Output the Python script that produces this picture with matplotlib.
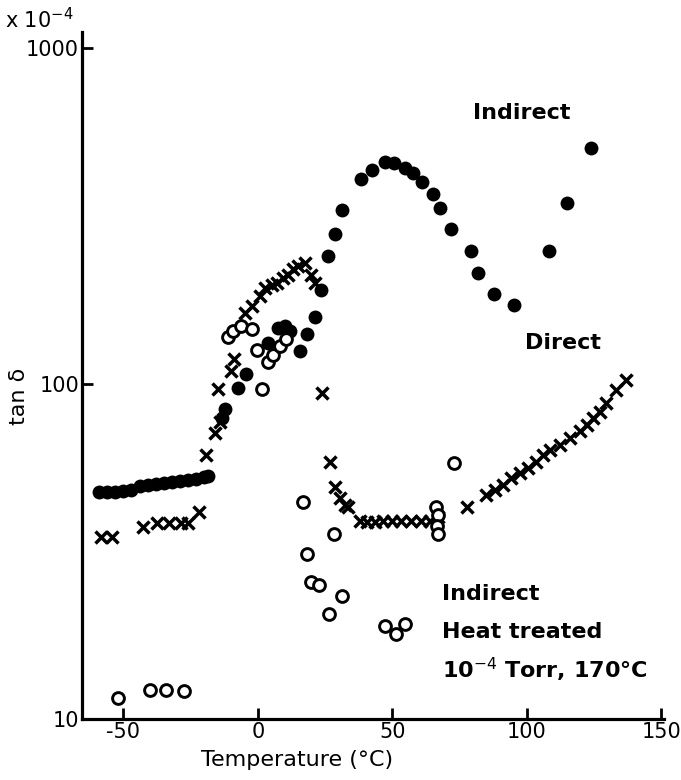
"""tan delta vs temperature: indirect, direct and heat-treated indirect."""

import matplotlib.pyplot as plt
from matplotlib.ticker import FixedLocator, NullLocator

# Indirect (filled circles)
indirect_t = [-59, -56, -53, -50, -47, -44, -41, -38, -35, -32, -29, -26, -23, -20, -18.5,
              -13.5, -12.3, -7.3, -4.5, 3.8, 7.5, 10, 11.9, 15.6, 18.1, 21.2, 23.5,
              25.9, 28.6, 31.2, 38.2, 42.3, 47.2, 50.6, 54.6, 57.5, 61.2, 65.2, 67.8,
              71.7, 79.2, 81.7, 87.9, 95.2, 108.3, 115.0, 124.0]
indirect_tan = [47.5, 47.5, 47.5, 47.8, 48, 49.5, 50, 50.3, 50.6, 51, 51.3, 51.6, 52, 52.5, 53,
                79, 84, 97, 107, 132, 146, 148, 143, 125, 140, 158, 190,
                239, 278, 329, 408, 432, 457, 454, 439, 423, 399, 368, 334,
                288, 248, 214, 185, 171, 249, 344, 502]

# Direct (crosses)
direct_t = [-58.5, -54.2, -42.9, -37.4, -33, -28.4, -25.9, -21.9, -19.3, -16, -14.1, -14.7,
            -10.1, -8.9, -4.8, -2.3, 0.7, 2.6, 5.1, 7, 9.4, 11.3, 13.1, 15, 17.5, 19.9,
            21.2, 23.7, 27, 28.6, 30.5, 32.3, 33.5, 37.9, 40.4, 43.5, 46.6, 49.7, 53.4,
            57.1, 60.8, 63.9, 67, 77.6, 85, 88.1, 91.2, 94.3, 97.4, 100.5, 103.6, 106.1,
            108.6, 112.3, 116, 119.7, 122.2, 124.7, 127.1, 129.6, 133.3, 136.8]
direct_tan = [35, 35, 37.4, 38.3, 38.4, 38.3, 38.3, 41.5, 61.3, 71, 77, 96,
              109, 118, 162, 170, 182, 192, 197, 199, 206, 211, 219, 224, 229, 211,
              199, 94, 58.5, 49, 45.5, 43.5, 43, 39, 38.8, 38.8, 39, 39, 39,
              39, 39, 39, 40, 43, 46.5, 48.2, 49.9, 52.2, 54, 55.9, 58.5, 61.3,
              63.4, 65.6, 68.7, 72, 75.4, 78.8, 82.4, 87.3, 95.7, 102.6]

# Indirect, heat treated 10^-4 Torr 170 C (open circles)
heat_t = [-52, -40, -34, -27.5, -11, -9.2, -6.1, -2.3, -0.5, 1.7, 3.8, 5.7, 8.2,
          10.4, 16.6, 18.1, 19.7, 22.8, 26.5, 28.3, 31.3, 47.2, 51.3, 54.6, 66.4, 67,
          66.6, 67, 72.9]
heat_tan = [11.6, 12.2, 12.2, 12.1, 138, 143, 148, 145, 126, 96, 116, 122, 129,
            136, 44.5, 31.1, 25.6, 25.1, 20.6, 35.7, 23.3, 19, 17.9, 19.2, 43, 40.5,
            37.7, 35.7, 57.8]

x_ticks = [-50, 0, 50, 100, 150]
y_ticks = [10, 100, 1000]

fig = plt.figure(figsize=(6.81, 7.8), dpi=100)
ax = fig.add_axes([0.12, 0.078, 0.855, 0.881])

ax.plot(indirect_t, indirect_tan, "o", color="black", markersize=10, markeredgewidth=0)
ax.plot(direct_t, direct_tan, "x", color="black", markersize=9, markeredgewidth=2.5)
ax.plot(heat_t, heat_tan, "o", markerfacecolor="white", markeredgecolor="black",
        markersize=8.5, markeredgewidth=2.1)

ax.set_yscale("log")
ax.set_xlim(-65.5, 151)
ax.set_ylim(10, 1115)
ax.xaxis.set_major_locator(FixedLocator(x_ticks))
ax.yaxis.set_major_locator(FixedLocator(y_ticks))
ax.yaxis.set_minor_locator(NullLocator())
ax.set_xticklabels([str(v) for v in x_ticks])
ax.set_yticklabels([str(v) for v in y_ticks])

for side in ("top", "right"):
    ax.spines[side].set_visible(False)
for side in ("left", "bottom"):
    ax.spines[side].set_linewidth(2.3)
ax.tick_params(direction="in", length=8, width=2, labelsize=15, pad=2)

ax.set_xlabel("Temperature (°C)", fontsize=16)
ax.xaxis.set_label_coords(0.37, -0.045)
ax.set_ylabel("tan δ", fontsize=16)
ax.yaxis.set_label_coords(-0.09, 0.47)

fig.text(0.008, 0.975, r"x 10$^{-4}$", fontsize=15, va="center", ha="left")

lbl = dict(fontsize=16, fontweight="bold", va="center")
ax.text(98, 640, "Indirect", ha="center", **lbl)
ax.text(113.4, 132, "Direct", ha="center", **lbl)
ax.text(68.4, 23.6, "Indirect", ha="left", **lbl)
ax.text(68.4, 18.2, "Heat treated", ha="left", **lbl)
ax.text(68.4, 14, r"10$^{-4}$ Torr, 170°C", ha="left", **lbl)

fig.savefig("out.png", dpi=100)
